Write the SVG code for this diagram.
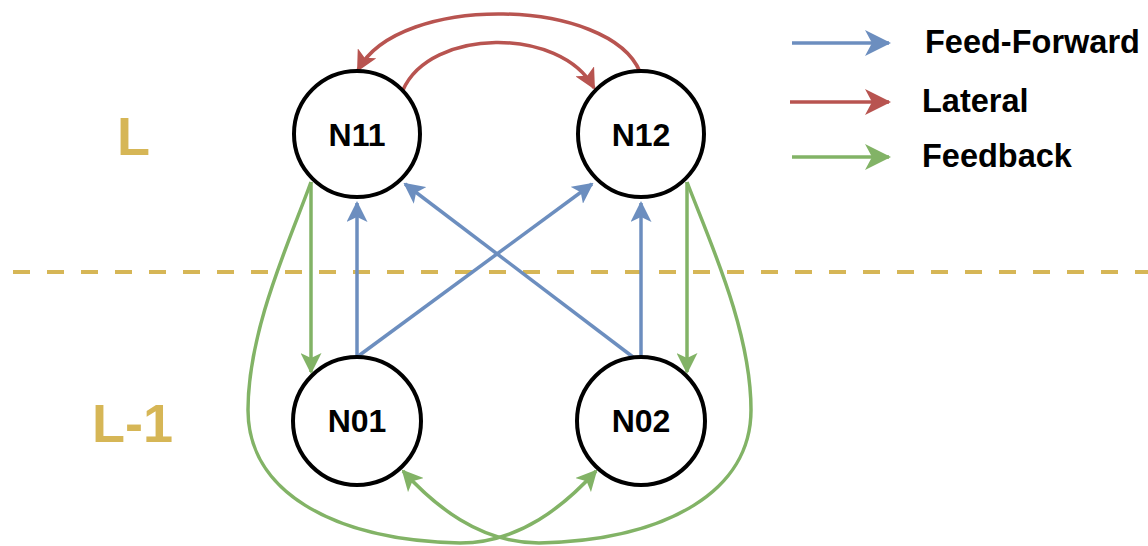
<svg xmlns="http://www.w3.org/2000/svg" width="1148" height="546" viewBox="0 0 1148 546">
<style>
.node circle{fill:#fff;stroke:#000;stroke-width:4}
.node text{font-family:"Liberation Sans",Arial,sans-serif;font-weight:bold;font-size:32px;fill:#000;text-anchor:middle}
.lbl{font-family:"Liberation Sans",Arial,sans-serif;font-weight:bold;font-size:54px;fill:#d6b656}
.leg{font-family:"Liberation Sans",Arial,sans-serif;font-weight:bold;font-size:32.5px;fill:#000}
.c{fill:none;stroke-width:3.5}
.ff{stroke:#6c8ebf}
.lat{stroke:#b85450}
.fb{stroke:#82b366}
</style>
<defs>
<marker id="aB" markerUnits="userSpaceOnUse" markerWidth="21" markerHeight="21" viewBox="0 0 21 21" refX="19" refY="10.5" orient="auto"><path d="M0,0 L21,10.5 L0,21 L5,10.5 z" fill="#6c8ebf"/></marker>
<marker id="aR" markerUnits="userSpaceOnUse" markerWidth="21" markerHeight="21" viewBox="0 0 21 21" refX="19" refY="10.5" orient="auto"><path d="M0,0 L21,10.5 L0,21 L5,10.5 z" fill="#b85450"/></marker>
<marker id="aG" markerUnits="userSpaceOnUse" markerWidth="21" markerHeight="21" viewBox="0 0 21 21" refX="19" refY="10.5" orient="auto"><path d="M0,0 L21,10.5 L0,21 L5,10.5 z" fill="#82b366"/></marker>
<marker id="lB" markerUnits="userSpaceOnUse" markerWidth="26" markerHeight="26" viewBox="0 0 26 26" refX="24" refY="13" orient="auto"><path d="M0,0 L26,13 L0,26 L7,13 z" fill="#6c8ebf"/></marker>
<marker id="lR" markerUnits="userSpaceOnUse" markerWidth="26" markerHeight="26" viewBox="0 0 26 26" refX="24" refY="13" orient="auto"><path d="M0,0 L26,13 L0,26 L7,13 z" fill="#b85450"/></marker>
<marker id="lG" markerUnits="userSpaceOnUse" markerWidth="26" markerHeight="26" viewBox="0 0 26 26" refX="24" refY="13" orient="auto"><path d="M0,0 L26,13 L0,26 L7,13 z" fill="#82b366"/></marker>
</defs>
<rect width="1148" height="546" fill="#fff"/>
<line x1="13" y1="272" x2="1148" y2="272" stroke="#d6b656" stroke-width="4" stroke-dasharray="17 17"/>
<text class="lbl" x="117" y="155">L</text>
<text class="lbl" x="92" y="442">L-1</text>
<g id="connectors">
<path class="c ff" d="M357,357 L357,203" marker-end="url(#aB)"/>
<path class="c ff" d="M641,357 L641,203" marker-end="url(#aB)"/>
<path class="c ff" d="M357,357 L592,184" marker-end="url(#aB)"/>
<path class="c ff" d="M633,357 L405,184" marker-end="url(#aB)"/>
<path class="c lat" d="M640,72 C610,-2 400,-8 358,70" marker-end="url(#aR)"/>
<path class="c lat" d="M403,90 C430,28 560,26 594,88" marker-end="url(#aR)"/>
<path class="c fb" d="M311,182 L311,372" marker-end="url(#aG)"/>
<path class="c fb" d="M687,182 L687,372" marker-end="url(#aG)"/>
<path class="c fb" d="M311,182 C290,240 248,330 248,410 C248,490 330,540 460,543 C520,543 565,505 596,471" marker-end="url(#aG)"/>
<path class="c fb" d="M687,182 C709,240 751,330 751,410 C751,490 669,540 539,543 C479,543 434,505 403,471" marker-end="url(#aG)"/>
</g>
<g id="N11" class="node"><circle cx="357" cy="134" r="63"/><text x="357" y="146">N11</text></g>
<g id="N12" class="node"><circle cx="641" cy="134" r="63"/><text x="641" y="146">N12</text></g>
<g id="N01" class="node"><circle cx="357" cy="421" r="64"/><text x="357" y="432">N01</text></g>
<g id="N02" class="node"><circle cx="641" cy="421" r="64"/><text x="641" y="432">N02</text></g>
<g id="legend">
<path class="c ff" d="M792,43 L889,43" marker-end="url(#lB)"/>
<path class="c lat" d="M790,102 L889,102" marker-end="url(#lR)"/>
<path class="c fb" d="M792,157 L889,157" marker-end="url(#lG)"/>
<text class="leg" x="925" y="53">Feed-Forward</text>
<text class="leg" x="922" y="112">Lateral</text>
<text class="leg" x="922" y="167">Feedback</text>
</g>
</svg>
